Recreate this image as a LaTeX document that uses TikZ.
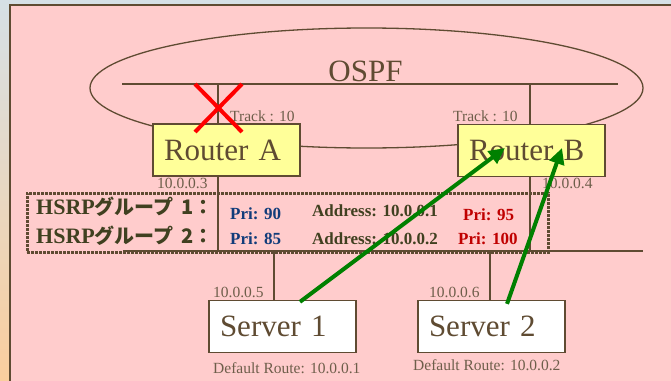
\documentclass[tikz,border=0pt]{standalone}
\usepackage{fontspec}
\setmainfont{Liberation Serif}
\newfontfamily\jpfont{Noto Sans CJK JP}
\usetikzlibrary{arrows.meta,calc,positioning}

\definecolor{bgpink}{RGB}{255,204,204}
\definecolor{brd}{RGB}{95,75,50}
\definecolor{lbltxt}{RGB}{110,94,74}
\definecolor{yel}{RGB}{255,255,153}
\definecolor{olive}{RGB}{64,64,32}
\definecolor{priblue}{RGB}{17,60,122}
\definecolor{prired}{RGB}{192,0,0}
\definecolor{grn}{RGB}{0,128,0}

\tikzset{
	rtrbox/.style={draw=brd, line width=1.3pt, text=brd,
		font=\fontsize{31}{34}\selectfont, align=left,
		text width=125pt, inner xsep=11pt, inner ysep=0pt,
		minimum height=52pt},
	router/.style={rtrbox, fill=yel},
	server/.style={rtrbox, fill=white},
	lbl/.style={text=lbltxt, font=\fontsize{15.5}{17}\selectfont,
		inner sep=0pt, anchor=base west},
	net/.style={draw=brd, line width=1.3pt},
	grptxt/.style={text=olive, font=\fontsize{22}{24}\selectfont\bfseries,
		inner sep=0pt, anchor=base west},
	pri/.style={font=\fontsize{17}{19}\selectfont\bfseries,
		inner sep=0pt, anchor=base west},
	garrow/.style={draw=grn, line width=4pt, -{Triangle[length=16pt,width=15pt]}},
	xmark/.style={draw=red, line width=4pt}
}

\begin{document}
\begin{tikzpicture}[x=1pt,y=-1pt]

\clip (0,0) rectangle (671,380);
\shade[top color={rgb,255:red,214;green,224;blue,230},
	bottom color={rgb,255:red,250;green,206;blue,158}] (0,0) rectangle (671,380);
\draw[fill=bgpink, draw=brd, line width=2pt] (9.5,4.5) rectangle (690,400);

% OSPF area
\draw[net] (366.5,88) ellipse [x radius=276.5, y radius=60];
\node[text=brd, font=\fontsize{31}{34}\selectfont, inner sep=0pt, anchor=base]
	(ospf) at (365.5,81) {OSPF};
\coordinate (ospfL) at (122,84);
\coordinate (ospfR) at (618,84);
\coordinate (tA) at (218,84);
\coordinate (tB) at (530,84);
\draw[net] (ospfL) -- (ospfR);

% LAN
\coordinate (lanL) at (123,251);
\coordinate (lanR) at (643,251);
\coordinate (dS1) at (274,251);
\coordinate (dS2) at (490,251);

\node[router] (RA) at (226.5,150) {Router A};
\node[router] (RB) at (531.5,150.5) {Router B};
\node[server] (S1) at (282.5,326.5) {Server 1};
\node[server] (S2) at (491.5,326.5) {Server 2};

\draw[net] (tA) -- (tA |- RA.north);
\draw[net] (tB) -- (tB |- RB.north);
\draw[net] (tA |- RA.south) -- (tA |- lanL);
\draw[net] (tB |- RB.south) -- (tB |- lanL);
\draw[net] (lanL) -- (lanR);
\draw[net] (dS1) -- (dS1 |- S1.north);
\draw[net] (dS2) -- (dS2 |- S2.north);

% HSRP groups
\node[draw=brd, line width=3pt, dash pattern=on 2.8pt off 1.2pt,
	minimum width=521pt, minimum height=59pt, inner sep=0pt]
	(grp) at (287.5,222.5) {};
\node[grptxt] (g1) at (36,214) {HSRP{\jpfont\fontsize{20}{22}\selectfont グループ\hspace{8pt}1：}};
\node[grptxt] (g2) at (36,243) {HSRP{\jpfont\fontsize{20}{22}\selectfont グループ\hspace{8pt}2：}};
\node[pri, text=priblue] (pa1) at (230,219) {Pri: 90};
\node[pri, text=priblue] (pa2) at (230,244) {Pri: 85};
\node[pri, text=olive] (ad1) at (312,216) {Address: 10.0.0.1};
\node[pri, text=olive] (ad2) at (312,244) {Address: 10.0.0.2};
\node[pri, text=prired] (pb1) at (463,220) {Pri: 95};
\node[pri, text=prired] (pb2) at (458,244) {Pri: 100};

% addresses
\node[lbl] (trA) at (230,121) {Track : 10};
\node[lbl] (trB) at (453,121) {Track : 10};
\node[lbl] (ipA) at (157,188) {10.0.0.3};
\node[lbl] (ipB) at (542,188) {10.0.0.4};
\node[lbl] (ip1) at (213,297) {10.0.0.5};
\node[lbl] (ip2) at (429,297) {10.0.0.6};
\node[lbl] (dr1) at (213,373) {Default Route: 10.0.0.1};
\node[lbl] (dr2) at (413,370) {Default Route: 10.0.0.2};

% failed tracking
\draw[xmark] ($(tA)+(-23,0)$) -- ($(tA)+(24,48)$);
\draw[xmark] ($(tA)+(24,0)$) -- ($(tA)+(-23,48)$);

% traffic to Router B
\draw[garrow] ($(S1.north)+(17.5,2)$) -- ($(RB.center)+(-26.5,-2.5)$);
\draw[garrow] ($(S2.north)+(15.5,4)$) -- ($(RB.center)+(30.5,-2.5)$);

\end{tikzpicture}
\end{document}
